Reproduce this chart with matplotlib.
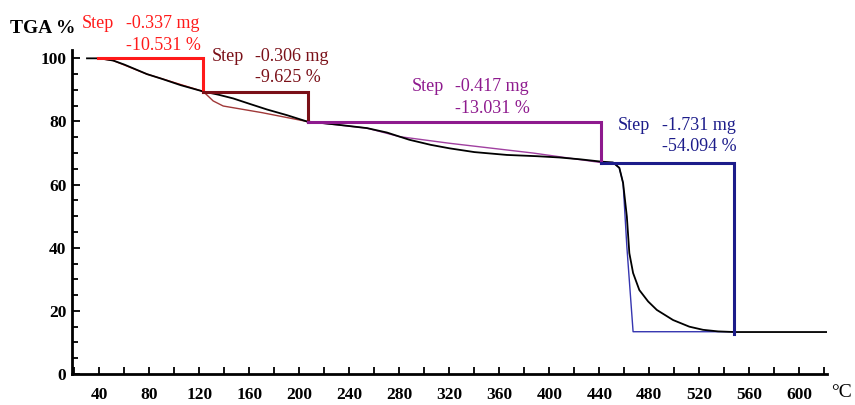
"""TGA curve with step-loss evaluation."""
import matplotlib
matplotlib.use("Agg")
import matplotlib.pyplot as plt
from matplotlib.ticker import MultipleLocator

temp = [30, 40, 51, 60, 78, 90, 105, 123, 135, 147, 160, 174, 190, 206, 230, 254, 270,
        288, 305, 320, 340, 366, 390, 408, 425, 441, 451, 456, 459, 462, 464, 467, 472,
        479, 486, 499, 512, 523, 535, 548, 580, 622]
tga = [100.0, 100.0, 99.3, 98.0, 95.0, 93.5, 91.5, 89.5, 88.5, 87.3, 85.6, 83.8, 82.0, 80.0,
       79.0, 77.9, 76.5, 74.2, 72.6, 71.5, 70.3, 69.4, 69.0, 68.6, 68.0, 67.3, 67.0, 65.3,
       60.5, 49.9, 38.3, 32.0, 26.6, 23.0, 20.3, 17.1, 15.0, 14.0, 13.5, 13.3, 13.3, 13.3]

# step evaluation: boundaries (degC), levels (%), labels
step_t = [39, 123, 207, 441, 548]
step_level = [100.0, 89.47, 79.84, 66.81, 12.72]
step_mg = ["-0.337 mg", "-0.306 mg", "-0.417 mg", "-1.731 mg"]
step_pct = ["-10.531 %", "-9.625 %", "-13.031 %", "-54.094 %"]
step_colors = ["#ff1a1a", "#7a1018", "#8e1a8e", "#1c1c8a"]
fit_colors = ["#e03030", "#a03838", "#a040a0", "#3535b0"]

# fitted (thin) curves for each step
fit_t = [
    [39, 51, 78, 105, 123],
    [123, 131, 139, 170, 206],
    [206, 254, 280, 320, 387, 441],
    [441, 451, 456, 459, 462, 467, 548],
]
fit_y = [
    [100.0, 99.3, 95.0, 91.7, 89.5],
    [89.5, 86.5, 84.9, 82.8, 80.0],
    [80.0, 77.9, 75.2, 73.1, 70.0, 67.0],
    [67.0, 67.0, 65.3, 60.5, 40.4, 13.4, 13.4],
]

# label positions: x of "Step", x of the values, y of the first line (data coords)
word_x = [26, 130, 290, 455]
value_x = [61, 164.5, 324.5, 490]
label_y = [110.9, 100.7, 91.0, 78.8]

plt.rcParams["font.family"] = ["Liberation Serif", "DejaVu Serif"]

fig = plt.figure(figsize=(8.55, 4.05), dpi=100)
ax = fig.add_axes([0.0842, 0.0765, 0.8828, 0.8005])

ax.plot(temp, tga, color="black", lw=1.3, zorder=3)

for i in range(4):
    c = step_colors[i]
    ax.plot(fit_t[i], fit_y[i], color=fit_colors[i], lw=1.0, zorder=2)
    ax.plot([step_t[i], step_t[i + 1], step_t[i + 1]],
            [step_level[i], step_level[i], step_level[i + 1]],
            color=c, lw=2.2, solid_joinstyle="miter", zorder=4)
    ax.text(word_x[i], label_y[i], "Step", color=c, fontsize=13,
            ha="left", va="center", clip_on=False)
    ax.text(value_x[i], label_y[i], step_mg[i], color=c, fontsize=13,
            ha="left", va="center", clip_on=False)
    ax.text(value_x[i], label_y[i] - 6.8, step_pct[i], color=c, fontsize=13,
            ha="left", va="center", clip_on=False)

ax.set_xlim(18, 622)
ax.set_ylim(0, 102.7)
ax.xaxis.set_major_locator(MultipleLocator(40))
ax.xaxis.set_minor_locator(MultipleLocator(20))
ax.yaxis.set_major_locator(MultipleLocator(20))
ax.yaxis.set_minor_locator(MultipleLocator(5))
ax.set_xticks(range(40, 601, 40))

for s in ["top", "right"]:
    ax.spines[s].set_visible(False)
for s in ["left", "bottom"]:
    ax.spines[s].set_linewidth(2.0)

ax.tick_params(axis="both", which="both", direction="in", width=1.3, colors="black")
ax.tick_params(axis="y", which="major", length=6, pad=4)
ax.tick_params(axis="y", which="minor", length=4)
ax.tick_params(axis="x", which="major", length=5, pad=9)
ax.tick_params(axis="x", which="minor", length=5)
for lab in ax.get_xticklabels() + ax.get_yticklabels():
    lab.set_fontweight("bold")
    lab.set_fontsize(12.5)

fig.text(0.012, 0.93, "TGA %", fontsize=14, fontweight="bold", va="center", ha="left")
fig.text(0.972, 0.032, "\u00b0C", fontsize=14, va="center", ha="left")

fig.savefig("out.png", dpi=100)
